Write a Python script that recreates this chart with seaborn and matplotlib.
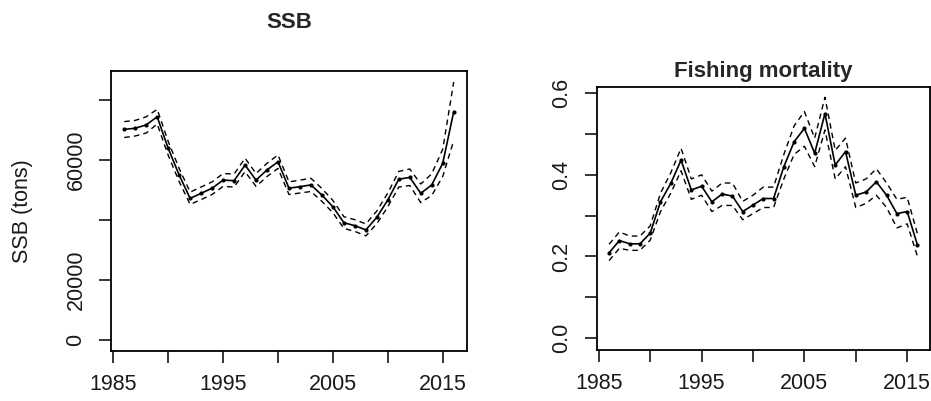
import numpy as np
import pandas as pd
import matplotlib
matplotlib.use('Agg')
import matplotlib.pyplot as plt
import seaborn as sns

# values
years = list(range(1986, 2017))

ssb = [70200, 70600, 71700, 74400, 63900, 55000, 47200, 48900, 50600, 53300,
       53100, 58300, 53300, 56700, 59400, 50600, 51100, 51700, 48300, 44400,
       39100, 38100, 36700, 40900, 46700, 53600, 54200, 48900, 51700, 58900,
       76100]
ssb_lo = [67500, 68000, 69000, 72000, 61600, 52800, 45200, 46800, 48500, 51200,
          51000, 56100, 51200, 54500, 57200, 48500, 49000, 49500, 46200, 42400,
          37200, 36200, 34700, 38800, 44400, 51000, 51500, 45800, 48200, 54500,
          66500]
ssb_hi = [72800, 73200, 74400, 76900, 66200, 57200, 49300, 51000, 52700, 55500,
          55300, 60600, 55500, 58900, 61700, 52700, 53300, 53900, 50500, 46500,
          41100, 40100, 38700, 43000, 49000, 56200, 57000, 52000, 55400, 63600,
          86000]

f_est = [0.209, 0.239, 0.231, 0.231, 0.257, 0.334, 0.379, 0.436, 0.363, 0.372,
         0.334, 0.353, 0.348, 0.310, 0.326, 0.342, 0.342, 0.420, 0.481, 0.514,
         0.453, 0.550, 0.424, 0.457, 0.350, 0.358, 0.383, 0.350, 0.305, 0.310,
         0.228]
f_lo = [0.190, 0.220, 0.215, 0.215, 0.240, 0.310, 0.355, 0.410, 0.340, 0.350,
        0.310, 0.325, 0.325, 0.290, 0.305, 0.320, 0.320, 0.390, 0.450, 0.470,
        0.420, 0.510, 0.390, 0.420, 0.320, 0.330, 0.350, 0.320, 0.270, 0.280,
        0.200]
f_hi = [0.230, 0.260, 0.250, 0.250, 0.275, 0.355, 0.405, 0.465, 0.390, 0.400,
        0.360, 0.380, 0.380, 0.335, 0.350, 0.370, 0.370, 0.450, 0.520, 0.555,
        0.490, 0.590, 0.460, 0.490, 0.380, 0.390, 0.415, 0.380, 0.340, 0.345,
        0.255]

x_ticks = [1985, 1990, 1995, 2000, 2005, 2010, 2015]
x_labels = ['1985', '', '1995', '', '2005', '', '2015']
ssb_ticks = [0, 20000, 40000, 60000, 80000]
ssb_labels = ['0', '20000', '', '60000', '']
f_ticks = [0.0, 0.1, 0.2, 0.3, 0.4, 0.5, 0.6]
f_labels = ['0.0', '', '0.2', '', '0.4', '', '0.6']

sns.set_style('white')
plt.rcParams['font.family'] = ['Liberation Sans', 'DejaVu Sans']

df_ssb = pd.DataFrame({'year': years, 'est': ssb, 'lo': ssb_lo, 'hi': ssb_hi})
df_f = pd.DataFrame({'year': years, 'est': f_est, 'lo': f_lo, 'hi': f_hi})

fig = plt.figure(figsize=(9.31, 4.01), dpi=100)
ax1 = fig.add_axes([0.1193, 0.1247, 0.3822, 0.699])
ax2 = fig.add_axes([0.641, 0.1284, 0.3577, 0.6554])


def draw_panel(ax, df):
    sns.lineplot(data=df, x='year', y='est', ax=ax, color='black', lw=1.2,
                 marker='o', markersize=3, markeredgewidth=0)
    for col in ['lo', 'hi']:
        sns.lineplot(data=df, x='year', y=col, ax=ax, color='black', lw=1.0,
                     linestyle=(0, (4, 3)))
    ax.set_xlim(1984.8, 2017.2)
    ax.set_xticks(x_ticks)
    ax.set_xticklabels(x_labels)
    ax.set_xlabel('')
    ax.set_ylabel('')
    for s in ax.spines.values():
        s.set_linewidth(1.3)
        s.set_color('black')
    ax.tick_params(direction='out', length=8.6, width=1.1, color='black',
                   labelsize=15.5, labelcolor='#1a1a1a', bottom=True, left=True)
    ax.tick_params(axis='x', pad=8)
    ax.tick_params(axis='y', pad=9)


draw_panel(ax1, df_ssb)
ax1.set_ylim(-3667, 89770)
ax1.set_yticks(ssb_ticks)
ax1.set_yticklabels(ssb_labels, rotation=90, va='center')
ax1.set_ylabel('SSB (tons)', fontsize=15.5, color='#1a1a1a')
ax1.yaxis.set_label_coords(-0.22, 0.5)

draw_panel(ax2, df_f)
ax2.set_ylim(-0.028, 0.616)
ax2.set_yticks(f_ticks)
ax2.set_yticklabels(f_labels, rotation=90, va='center')

fig.text(289 / 931, 1 - 22 / 401, 'SSB', ha='center', va='center',
         fontsize=16, fontweight='bold')
fig.text(763 / 931, 1 - 72 / 401, 'Fishing mortality', ha='center', va='center',
         fontsize=16, fontweight='bold')

fig.savefig('out.png', dpi=100)
